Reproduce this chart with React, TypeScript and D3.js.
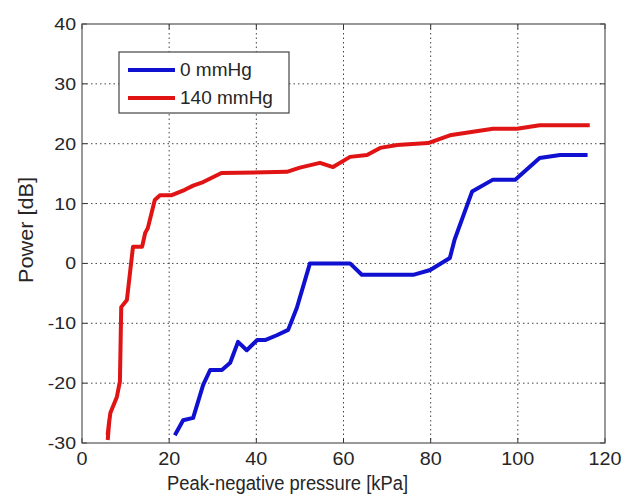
import React from "react";
import * as d3 from "d3";

const xTicks = [0, 20, 40, 60, 80, 100, 120];
const yTicks = [-30, -20, -10, 0, 10, 20, 30, 40];

const series0X = [21.3, 23.2, 25.5, 27.8, 29.4, 32.1, 34, 35.8, 37.8, 40.2, 42, 44.7, 47.3, 49.3, 52.3, 61.5, 64.2, 76, 79.9, 84.4, 85.5, 89.5, 94.3, 99.4, 105, 109.7, 116];
const series0Y = [-28.7, -26.2, -25.8, -20.3, -17.8, -17.8, -16.6, -13.1, -14.5, -12.8, -12.8, -12, -11.1, -7.4, 0, 0, -1.9, -1.9, -1.1, 0.9, 4, 12, 14, 14, 17.6, 18.1, 18.1];

const series1X = [5.9, 6.3, 5.9, 6.5, 8.0, 8.7, 9.0, 10.3, 11.7, 13.8, 14.5, 15.1, 16.7, 17.9, 20.6, 23.6, 25.5, 27.8, 32, 47, 50, 54.6, 57.6, 61.5, 65.4, 68.4, 72.3, 79.4, 84.4, 89.7, 94.3, 99.8, 105, 116.5];
const series1Y = [-29.5, -26.0, -28.5, -25.0, -22.3, -19.7, -7.3, -6.1, 2.8, 2.8, 5.1, 5.9, 10.6, 11.4, 11.4, 12.3, 13, 13.6, 15.1, 15.3, 16, 16.8, 16.1, 17.8, 18.1, 19.3, 19.8, 20.1, 21.4, 22, 22.5, 22.5, 23.1, 23.1];

const legendLabels = ["0 mmHg", "140 mmHg"];
const colors = ["#1010d0", "#e01414"];

export default function App() {
  const W = 625, H = 497;
  const L = 82, R = 605, T = 24, B = 443;
  const x = d3.scaleLinear().domain([0, 120]).range([L, R]);
  const y = d3.scaleLinear().domain([-30, 40]).range([B, T]);
  const line = d3.line<[number, number]>().x(d => x(d[0])).y(d => y(d[1]));
  const s0 = series0X.map((v, i) => [v, series0Y[i]] as [number, number]);
  const s1 = series1X.map((v, i) => [v, series1Y[i]] as [number, number]);
  const font = "Liberation Sans, Arial, sans-serif";
  const txt = "#262626";
  return (
    <svg width={W} height={H} style={{ position: "absolute", left: 0, top: 0, background: "#fff" }}>
      <rect x={0} y={0} width={W} height={H} fill="#fff" />
      {xTicks.slice(1, -1).map(t => (
        <line key={"gx" + t} x1={x(t)} x2={x(t)} y1={T} y2={B} stroke="#444" strokeWidth={1} strokeDasharray="1.5,3" />
      ))}
      {yTicks.slice(1, -1).map(t => (
        <line key={"gy" + t} x1={L} x2={R} y1={y(t)} y2={y(t)} stroke="#444" strokeWidth={1} strokeDasharray="1.5,3" />
      ))}
      {xTicks.map(t => (
        <g key={"tx" + t}>
          <line x1={x(t)} x2={x(t)} y1={B} y2={B - 5} stroke="#333" />
          <line x1={x(t)} x2={x(t)} y1={T} y2={T + 5} stroke="#333" />
          <text transform={`translate(${x(t)},465) scale(1.1,1)`} textAnchor="middle" fontFamily={font} fontSize={18} fill={txt}>{t}</text>
        </g>
      ))}
      {yTicks.map(t => (
        <g key={"ty" + t}>
          <line x1={L} x2={L + 5} y1={y(t)} y2={y(t)} stroke="#333" />
          <line x1={R} x2={R - 5} y1={y(t)} y2={y(t)} stroke="#333" />
          <text transform={`translate(76,${y(t) + 6}) scale(1.15,1)`} textAnchor="end" fontFamily={font} fontSize={17} fill={txt}>{t}</text>
        </g>
      ))}
      <rect x={L} y={T} width={R - L} height={B - T} fill="none" stroke="#555" strokeWidth={1.2} />
      <path d={line(s1) || ""} fill="none" stroke={colors[1]} strokeWidth={4} strokeLinejoin="round" />
      <path d={line(s0) || ""} fill="none" stroke={colors[0]} strokeWidth={4} strokeLinejoin="round" />
      <rect x={119} y={52} width={170} height={61} fill="#fff" stroke="#444" strokeWidth={1.2} />
      {legendLabels.map((lab, i) => (
        <g key={lab}>
          <line x1={128} x2={175} y1={70 + i * 28} y2={70 + i * 28} stroke={colors[i]} strokeWidth={4} />
          <text x={180} y={76 + i * 28} fontFamily={font} fontSize={19} fill={txt}>{lab}</text>
        </g>
      ))}
      <text x={287.5} y={490} textAnchor="middle" fontFamily={font} fontSize={20} textLength={241} lengthAdjust="spacingAndGlyphs" fill={txt}>Peak-negative pressure [kPa]</text>
      <text transform="translate(33,230) rotate(-90)" textAnchor="middle" fontFamily={font} fontSize={20} textLength={106} lengthAdjust="spacingAndGlyphs" fill={txt}>Power [dB]</text>
    </svg>
  );
}
